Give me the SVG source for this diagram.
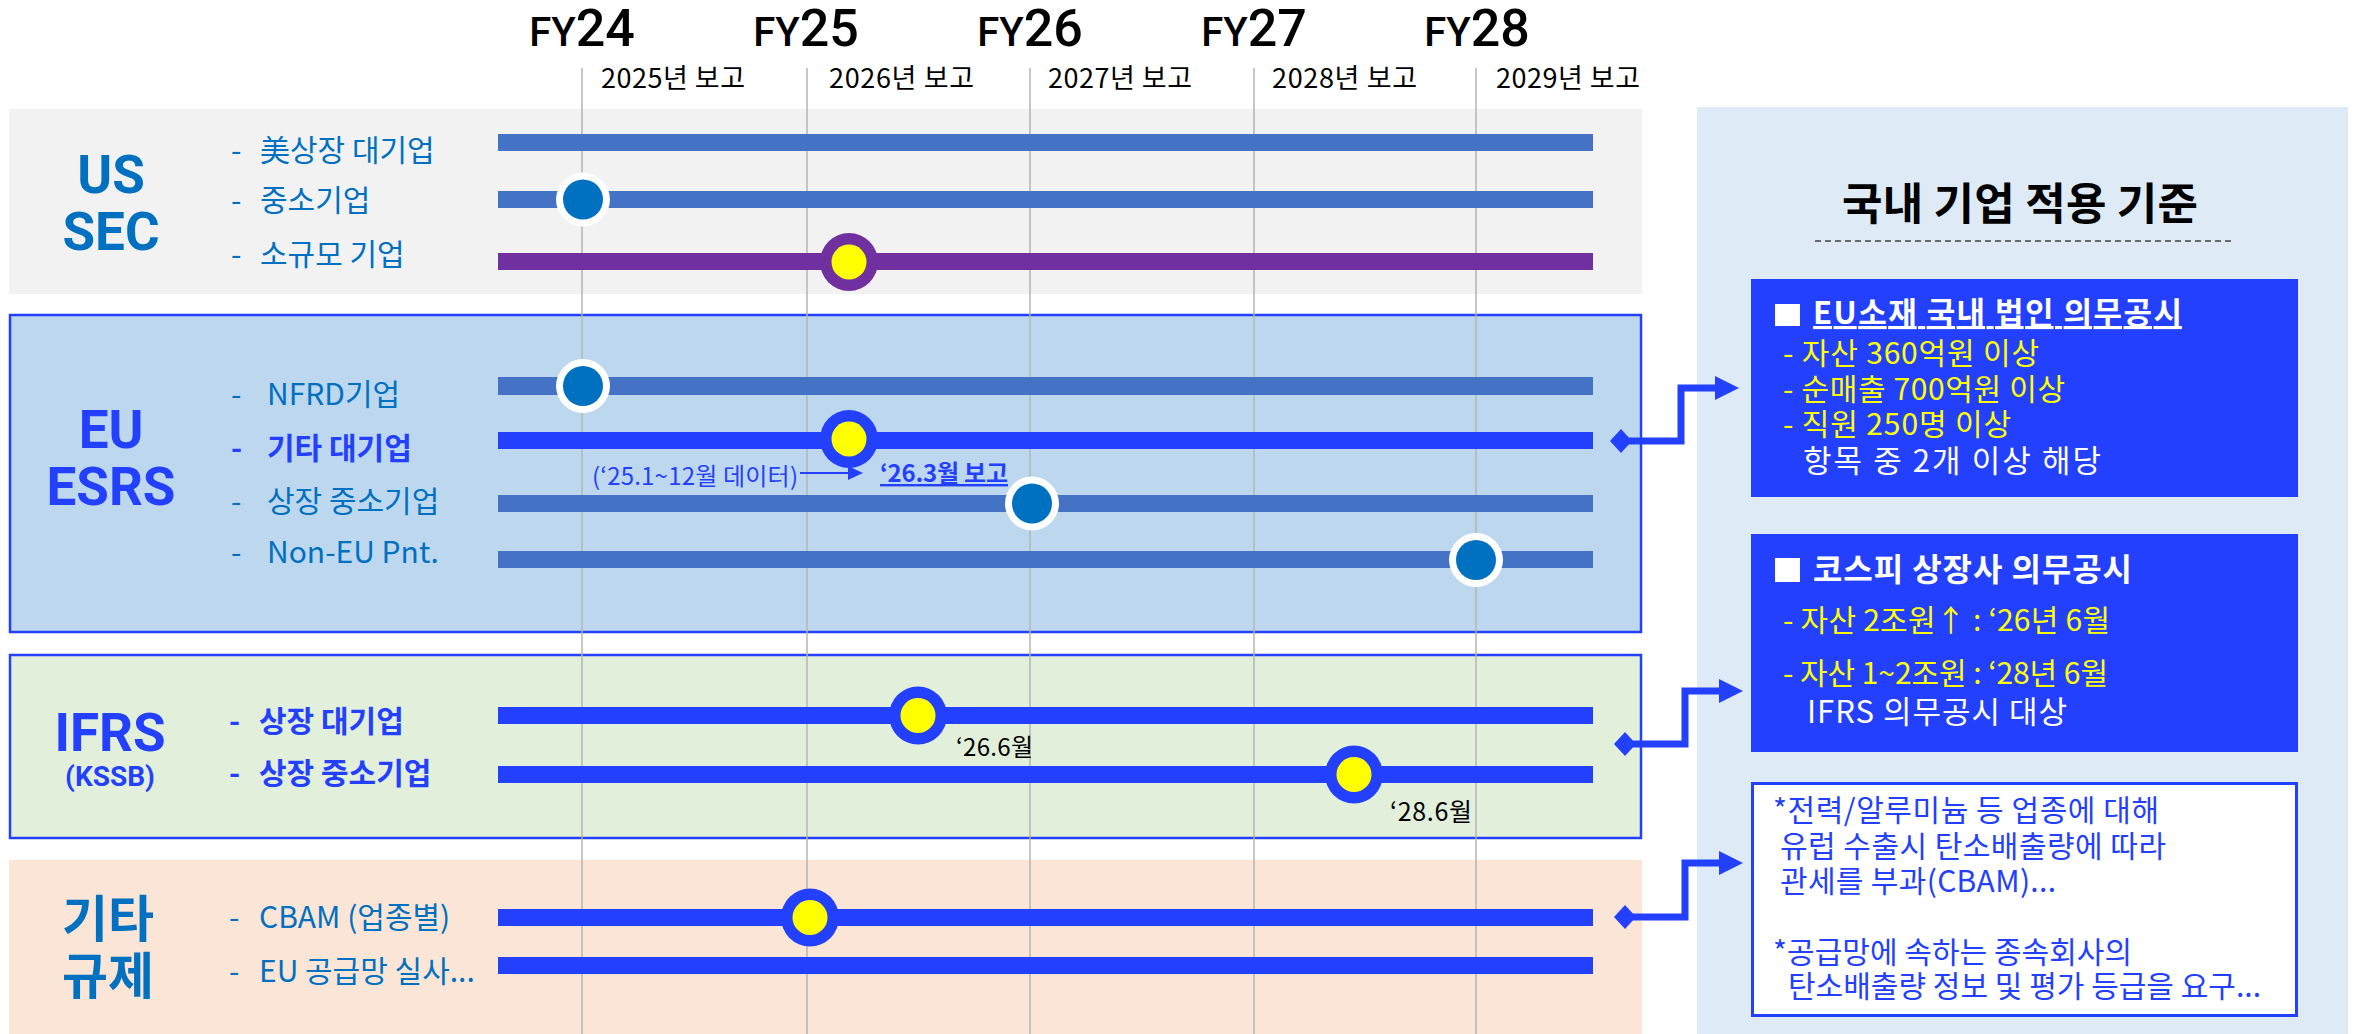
<svg xmlns="http://www.w3.org/2000/svg" width="2357" height="1034" viewBox="0 0 2357 1034">
<defs>
<style>
.fy{font-family:Roboto,"Liberation Sans",sans-serif;font-weight:500;fill:#000;text-anchor:middle}
.yr{font-family:"Noto Sans CJK KR","Noto Sans",sans-serif;font-size:27px;fill:#000}
.big{font-family:Roboto,"Noto Sans CJK KR",sans-serif;font-weight:700;font-size:53px;text-anchor:middle}
.bigk{font-family:"Noto Sans CJK KR",sans-serif;font-weight:700;font-size:50px;text-anchor:middle}
.lbl{font-family:"Noto Sans CJK KR","Noto Sans",sans-serif;font-size:30px}
.note{font-family:"Noto Sans CJK KR","Noto Sans",sans-serif;font-size:24px}
.rp{font-family:"Noto Sans CJK KR","Noto Sans",sans-serif;font-size:30px}
.c1{fill:#0070c0}
.c2{fill:#2340ff}
.wh{fill:#ffffff}
.ye{fill:#ffff00}
.bk{fill:#000000}
.b{font-weight:700}
.ul{text-decoration:underline}
.grid{stroke:#b4b4b4;stroke-width:1.5}
.barA{fill:#4472c4}
.barB{fill:#2340ff}
.barP{fill:#7030a0}
.conn{fill:none;stroke:#2340ff;stroke-width:7;stroke-linejoin:miter}
</style>
<marker id="dia" markerUnits="userSpaceOnUse" markerWidth="22" markerHeight="24" viewBox="0 0 22 24" refX="18" refY="12" orient="auto">
<path d="M0 12 L11 0 L22 12 L11 24 Z" fill="#2340ff"/>
</marker>
<marker id="arr" markerUnits="userSpaceOnUse" markerWidth="24" markerHeight="24" viewBox="0 0 24 24" refX="1" refY="12" orient="auto">
<path d="M0 0 L24 12 L0 24 Z" fill="#2340ff"/>
</marker>
<marker id="arrS" markerUnits="userSpaceOnUse" markerWidth="15" markerHeight="14" viewBox="0 0 15 14" refX="1" refY="7" orient="auto">
<path d="M0 0 L15 7 L0 14 Z" fill="#2340ff"/>
</marker>
</defs>

<rect x="0" y="0" width="2357" height="1034" fill="#ffffff"/>

<!-- header -->
<g id="header">
<text class="fy" x="582" y="46"><tspan font-size="40">FY</tspan><tspan font-size="52">24</tspan></text>
<text class="fy" x="806" y="46"><tspan font-size="40">FY</tspan><tspan font-size="52">25</tspan></text>
<text class="fy" x="1030" y="46"><tspan font-size="40">FY</tspan><tspan font-size="52">26</tspan></text>
<text class="fy" x="1254" y="46"><tspan font-size="40">FY</tspan><tspan font-size="52">27</tspan></text>
<text class="fy" x="1477" y="46"><tspan font-size="40">FY</tspan><tspan font-size="52">28</tspan></text>
<text class="yr" x="601" y="88" textLength="144">2025년 보고</text>
<text class="yr" x="829" y="88" textLength="145">2026년 보고</text>
<text class="yr" x="1048" y="88" textLength="144">2027년 보고</text>
<text class="yr" x="1272" y="88" textLength="145">2028년 보고</text>
<text class="yr" x="1496" y="88" textLength="144">2029년 보고</text>
</g>

<!-- panel nodes -->
<g id="us-sec">
<rect x="9" y="109" width="1633" height="185" fill="#f2f2f2"/>
<text class="big c1" x="111" y="193">US</text>
<text class="big c1" x="111" y="250">SEC</text>
<text class="lbl c1" y="161"><tspan x="231">-</tspan><tspan x="260">美상장 대기업</tspan></text>
<text class="lbl c1" y="211"><tspan x="231">-</tspan><tspan x="260">중소기업</tspan></text>
<text class="lbl c1" y="265"><tspan x="231">-</tspan><tspan x="260">소규모 기업</tspan></text>
</g>

<g id="eu-esrs">
<rect x="10" y="315" width="1631" height="317" fill="#bdd7ee" stroke="#2340ff" stroke-width="2.5"/>
<text class="big c2" x="111" y="448">EU</text>
<text class="big c2" x="111" y="505">ESRS</text>
<text class="lbl c1" y="405"><tspan x="231">-</tspan><tspan x="267">NFRD기업</tspan></text>
<text class="lbl c2 b" y="459"><tspan x="231">-</tspan><tspan x="267">기타 대기업</tspan></text>
<text class="lbl c1" y="512"><tspan x="231">-</tspan><tspan x="267">상장 중소기업</tspan></text>
<text class="lbl c1" y="563"><tspan x="231">-</tspan><tspan x="267">Non-EU Pnt.</tspan></text>
</g>

<g id="ifrs-kssb">
<rect x="10" y="655" width="1631" height="183" fill="#e2efda" stroke="#2340ff" stroke-width="2.5"/>
<text class="big c2" x="110" y="751">IFRS</text>
<text class="big c2" x="110" y="786" style="font-size:28px">(KSSB)</text>
<text class="lbl c2 b" y="732"><tspan x="229">-</tspan><tspan x="259">상장 대기업</tspan></text>
<text class="lbl c2 b" y="784"><tspan x="229">-</tspan><tspan x="259">상장 중소기업</tspan></text>
</g>

<g id="other-reg">
<rect x="9" y="860" width="1633" height="174" fill="#fbe5d6"/>
<text class="bigk c1" x="108" y="937">기타</text>
<text class="bigk c1" x="108" y="994">규제</text>
<text class="lbl c1" y="928"><tspan x="229">-</tspan><tspan x="259">CBAM (업종별)</tspan></text>
<text class="lbl c1" y="982"><tspan x="229">-</tspan><tspan x="259">EU 공급망 실사...</tspan></text>
</g>

<!-- grid -->
<g id="grid">
<line class="grid" x1="582" y1="68" x2="582" y2="1034"/>
<line class="grid" x1="807" y1="68" x2="807" y2="1034"/>
<line class="grid" x1="1030" y1="68" x2="1030" y2="1034"/>
<line class="grid" x1="1254" y1="68" x2="1254" y2="1034"/>
<line class="grid" x1="1476" y1="68" x2="1476" y2="1034"/>
</g>

<!-- timelines -->
<g id="timeline-us">
<rect class="barA" x="498" y="134" width="1095" height="17"/>
<rect class="barA" x="498" y="191" width="1095" height="17"/>
<rect class="barP" x="498" y="253" width="1095" height="17"/>
<circle cx="583" cy="199.5" r="27" fill="#ffffff"/>
<circle cx="583" cy="199.5" r="20" fill="#0070c0"/>
<circle cx="849" cy="262" r="29" fill="#7030a0"/>
<circle cx="849" cy="262" r="17.5" fill="#ffff00"/>
</g>

<g id="timeline-eu">
<rect class="barA" x="498" y="377" width="1095" height="18"/>
<rect class="barB" x="498" y="432" width="1095" height="17"/>
<rect class="barA" x="498" y="495" width="1095" height="17"/>
<rect class="barA" x="498" y="551" width="1095" height="17"/>
<circle cx="583" cy="386" r="27" fill="#ffffff"/>
<circle cx="583" cy="386" r="20" fill="#0070c0"/>
<circle cx="849" cy="439" r="29" fill="#2340ff"/>
<circle cx="849" cy="439" r="17.5" fill="#ffff00"/>
<circle cx="1032" cy="503.5" r="27" fill="#ffffff"/>
<circle cx="1032" cy="503.5" r="20" fill="#0070c0"/>
<circle cx="1476" cy="560" r="27" fill="#ffffff"/>
<circle cx="1476" cy="560" r="20" fill="#0070c0"/>
<text class="note c2" x="592" y="485" textLength="206">(‘25.1~12월 데이터)</text>
<text class="note c2 b ul" x="880" y="482" textLength="128">‘26.3월 보고</text>
</g>

<g id="timeline-ifrs">
<rect class="barB" x="498" y="707" width="1095" height="17"/>
<rect class="barB" x="498" y="766" width="1095" height="17"/>
<circle cx="918" cy="715.5" r="29" fill="#2340ff"/>
<circle cx="918" cy="715.5" r="17.5" fill="#ffff00"/>
<circle cx="1354" cy="774.5" r="29" fill="#2340ff"/>
<circle cx="1354" cy="774.5" r="17.5" fill="#ffff00"/>
<text class="note bk" x="956" y="756" textLength="77">‘26.6월</text>
<text class="note bk" x="1390" y="821" style="font-size:25px" textLength="82">‘28.6월</text>
</g>

<g id="timeline-other">
<rect class="barB" x="498" y="909" width="1095" height="17"/>
<rect class="barB" x="498" y="957" width="1095" height="17"/>
<circle cx="810" cy="917.5" r="29" fill="#2340ff"/>
<circle cx="810" cy="917.5" r="17.5" fill="#ffff00"/>
</g>

<!-- right panel -->
<g id="domestic-criteria">
<rect x="1697" y="107" width="651" height="927" fill="#deebf7"/>
<text class="rp b bk" x="2020" y="220" text-anchor="middle" style="font-size:44px" textLength="356">국내 기업 적용 기준</text>
<line x1="1815" y1="241" x2="2232" y2="241" stroke="#404040" stroke-width="1.5" stroke-dasharray="6 4"/>
</g>

<g id="box-eu-domestic">
<rect x="1751" y="279" width="547" height="218" fill="#2340ff"/>
<rect x="1775" y="304" width="25" height="22" fill="#ffffff"/>
<text class="rp b wh ul" x="1813" y="324" style="font-size:31px" textLength="369">EU소재 국내 법인 의무공시</text>
<text class="rp ye" x="1783" y="364" textLength="256">- 자산 360억원 이상</text>
<text class="rp ye" x="1783" y="400" textLength="282">- 순매출 700억원 이상</text>
<text class="rp ye" x="1783" y="435" textLength="228">- 직원 250명 이상</text>
<text class="rp wh" x="1803" y="472" style="font-size:31px" textLength="298">항목 중 2개 이상 해당</text>
</g>

<g id="box-kospi">
<rect x="1751" y="534" width="547" height="218" fill="#2340ff"/>
<rect x="1775" y="558" width="25" height="24" fill="#ffffff"/>
<text class="rp b wh" x="1813" y="581" style="font-size:32px" textLength="319">코스피 상장사 의무공시</text>
<text class="rp ye" x="1783" y="631" textLength="327">- 자산 2조원↑ : ‘26년 6월</text>
<text class="rp ye" x="1783" y="684" textLength="325">- 자산 1~2조원 : ‘28년 6월</text>
<text class="rp wh" x="1807" y="723" style="font-size:31px" textLength="260">IFRS 의무공시 대상</text>
</g>

<g id="box-other">
<rect x="1752.5" y="783.5" width="544" height="232" fill="#ffffff" stroke="#2340ff" stroke-width="3"/>
<text class="rp c2" x="1773" y="821" textLength="386">*전력/알루미늄 등 업종에 대해</text>
<text class="rp c2" x="1780" y="857" textLength="386">유럽 수출시 탄소배출량에 따라</text>
<text class="rp c2" x="1780" y="892" textLength="276">관세를 부과(CBAM)...</text>
<text class="rp c2" x="1773" y="963" textLength="359">*공급망에 속하는 종속회사의</text>
<text class="rp c2" x="1788" y="997" textLength="473">탄소배출량 정보 및 평가 등급을 요구...</text>
</g>

<!-- connectors -->
<g id="connectors">
<path class="conn" d="M1628 441 H1681 V388 H1716" marker-start="url(#dia)" marker-end="url(#arr)"/>
<path class="conn" d="M1632 744 H1685 V691 H1720" marker-start="url(#dia)" marker-end="url(#arr)"/>
<path class="conn" d="M1632 917 H1685 V863 H1720" marker-start="url(#dia)" marker-end="url(#arr)"/>
<path d="M800 473 H849" fill="none" stroke="#2340ff" stroke-width="2" marker-end="url(#arrS)"/>
</g>
</svg>
